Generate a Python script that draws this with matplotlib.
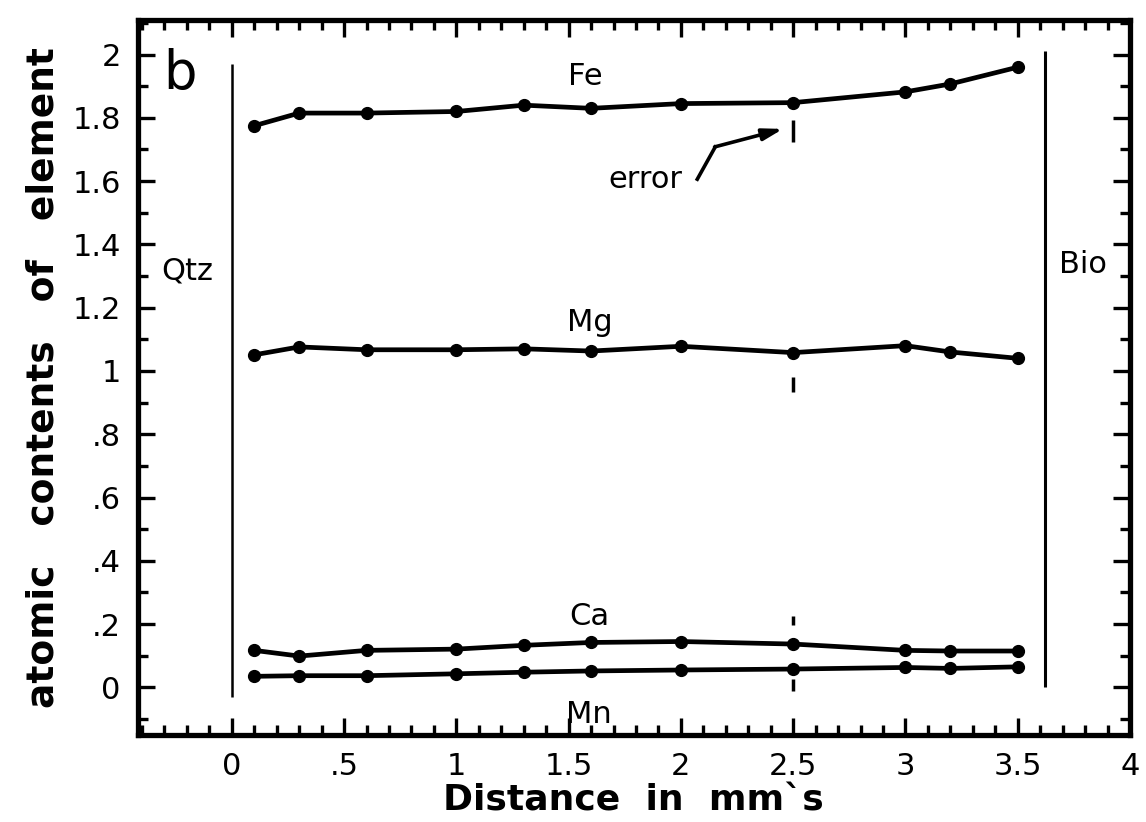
import matplotlib
matplotlib.use("Agg")
import matplotlib.pyplot as plt
from matplotlib.ticker import MultipleLocator, FuncFormatter

# distance along the profile (mm)
distance = [0.1, 0.3, 0.6, 1.0, 1.3, 1.6, 2.0, 2.5, 3.0, 3.2, 3.5]

fe = [1.775, 1.815, 1.815, 1.82, 1.84, 1.83, 1.845, 1.848, 1.882, 1.907, 1.96]
mg = [1.051, 1.076, 1.067, 1.067, 1.07, 1.063, 1.078, 1.058, 1.08, 1.06, 1.04]
ca = [0.117, 0.099, 0.117, 0.121, 0.133, 0.142, 0.145, 0.137, 0.117, 0.115, 0.115]
mn = [0.035, 0.037, 0.037, 0.043, 0.048, 0.052, 0.055, 0.058, 0.063, 0.06, 0.065]

# error bar pieces drawn at x = 2.5 (ymin, ymax)
err_x = 2.5
err_segments = [(1.725, 1.792), (0.935, 0.98), (0.197, 0.225), (-0.01, 0.025)]

# phase boundaries
qtz_x, qtz_span = 0.0, (-0.03, 1.97)
bio_x, bio_span = 3.62, (0.0, 2.01)


def fmt(v, pos):
    s = f"{v:.1f}".rstrip("0").rstrip(".")
    if s.startswith("0."):
        s = s[1:]
    if s == "-0":
        s = "0"
    return s


fig = plt.figure(figsize=(11.46, 8.22), dpi=100)
ax = fig.add_axes([0.120, 0.106, 0.866, 0.870])

for series in (fe, mg, ca, mn):
    ax.plot(distance, series, color="black", lw=3.4, marker="o", ms=8.5)

ax.vlines(qtz_x, *qtz_span, color="black", lw=1.8)
ax.vlines(bio_x, *bio_span, color="black", lw=2.2)
for lo, hi in err_segments:
    ax.vlines(err_x, lo, hi, color="black", lw=2.5)

tkw = dict(fontsize=22, color="black")
ax.text(-0.23, 1.94, "b", fontsize=38, ha="center", va="center")
ax.text(1.574, 1.93, "Fe", ha="center", va="center", **tkw)
ax.text(1.596, 1.152, "Mg", ha="center", va="center", **tkw)
ax.text(1.59, 0.225, "Ca", ha="center", va="center", **tkw)
ax.text(1.59, -0.086, "Mn", ha="center", va="center", **tkw)
ax.text(-0.2, 1.317, "Qtz", ha="center", va="center", **tkw)
ax.text(3.79, 1.337, "Bio", ha="center", va="center", **tkw)
ax.text(1.84, 1.606, "error", ha="center", va="center", **tkw)

# bent pointer from "error" to the Fe error bar
ax.plot([2.073, 2.153], [1.606, 1.708], color="black", lw=2.6)
ax.annotate("", xy=(2.455, 1.765), xytext=(2.15, 1.708),
            arrowprops=dict(arrowstyle="-|>,head_length=1.2,head_width=0.35",
                            color="black", lw=2.6, shrinkA=0, shrinkB=0))

ax.set_xlim(-0.42, 4.0)
ax.set_ylim(-0.15, 2.11)

ax.xaxis.set_major_locator(MultipleLocator(0.5))
ax.xaxis.set_minor_locator(MultipleLocator(0.1))
ax.yaxis.set_major_locator(MultipleLocator(0.2))
ax.yaxis.set_minor_locator(MultipleLocator(0.1))
ax.xaxis.set_major_formatter(FuncFormatter(fmt))
ax.yaxis.set_major_formatter(FuncFormatter(fmt))

ax.tick_params(which="both", direction="in", top=True, right=True,
               width=2.4, colors="black")
ax.tick_params(which="major", length=12, labelsize=22, pad=12)
ax.tick_params(which="minor", length=7)
for sp in ax.spines.values():
    sp.set_linewidth(3.8)

ax.set_xlabel("Distance  in  mm`s", fontsize=26, fontweight="bold", labelpad=2)
ax.set_ylabel("atomic   contents   of   element", fontsize=27, fontweight="bold",
              labelpad=8)

fig.savefig("out.png", dpi=100)
